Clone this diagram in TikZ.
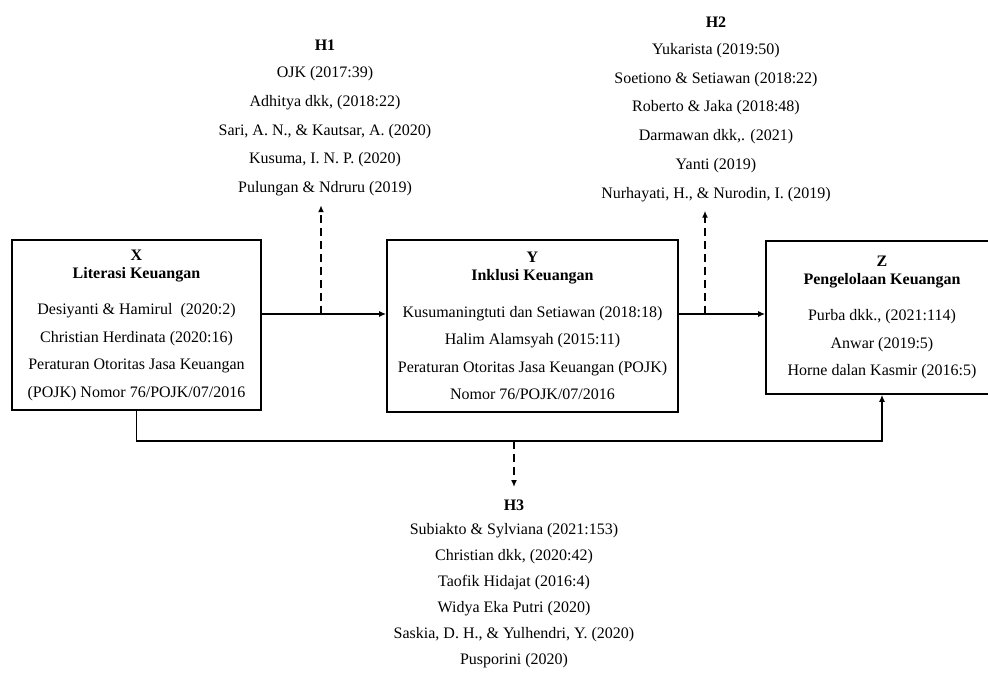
\documentclass[tikz,border=0pt]{standalone}
\usepackage{fontspec}
\setmainfont{Liberation Serif}
\usetikzlibrary{arrows.meta,positioning}
\tikzstyle{var} = [draw, line width=1.6pt, align=center, inner sep=0pt, font=\fontsize{16}{27.5}\selectfont]
\tikzstyle{refs} = [align=center, inner sep=0pt, anchor=north, font=\fontsize{16}{28.7}\selectfont]
\tikzstyle{link} = [line width=1.5pt, -{Latex[length=7pt,width=6pt]}]
\tikzstyle{hyp} = [link, dash pattern=on 8pt off 5pt]

\begin{document}
\begin{tikzpicture}[x=1pt, y=-1pt]
	\clip (0,0) rectangle (988,688);
	\node[var, minimum width=249pt, minimum height=170pt] (X) at (136.5,325) {\textbf{X}\\[-9.5pt]\textbf{Literasi Keuangan}\\[9pt]Desiyanti \& Hamirul\ \ (2020:2)\\Christian Herdinata (2020:16)\\Peraturan Otoritas Jasa Keuangan\\(POJK) Nomor 76/POJK/07/2016};
	\node[var, minimum width=291pt, minimum height=172pt] (Y) at (532.5,326) {\textbf{Y}\\[-9.5pt]\textbf{Inklusi Keuangan}\\[9pt]Kusumaningtuti dan Setiawan (2018:18)\\Halim Alamsyah (2015:11)\\Peraturan Otoritas Jasa Keuangan (POJK)\\Nomor 76/POJK/07/2016};
	\node[var, minimum width=232pt, minimum height=153pt] (Z) at (882,317.5) {\textbf{Z}\\[-9.5pt]\textbf{Pengelolaan Keuangan}\\[9pt]Purba dkk., (2021:114)\\Anwar (2019:5)\\Horne dalan Kasmir (2016:5)};

	\node[refs] (H1) at (325,40) {\textbf{H1}\\[-1.7pt]OJK (2017:39)\\Adhitya dkk, (2018:22)\\Sari, A. N., \& Kautsar, A. (2020)\\Kusuma, I. N. P. (2020)\\Pulungan \& Ndruru (2019)};
	\node[refs] (H2) at (716,16.7) {\textbf{H2}\\[-1.6pt]Yukarista (2019:50)\\Soetiono \& Setiawan (2018:22)\\Roberto \& Jaka (2018:48)\\Darmawan dkk,. (2021)\\Yanti (2019)\\Nurhayati, H., \& Nurodin, I. (2019)};
	\node[refs, font=\fontsize{16}{26}\selectfont] (H3) at (514,499.5) {\textbf{H3}\\[-2pt]Subiakto \& Sylviana (2021:153)\\Christian dkk, (2020:42)\\Taofik Hidajat (2016:4)\\Widya Eka Putri (2020)\\Saskia, D. H., \& Yulhendri, Y. (2020)\\Pusporini (2020)};

	\coordinate (row) at (0,314);
	\coordinate (base) at (0,441);
	\coordinate (j1) at (321,314);
	\coordinate (j2) at (705,314);
	\coordinate (j3) at (514,441);

	\draw[link] (X.east |- row) -- (Y.west |- row);
	\draw[link] (Y.east |- row) -- (Z.west |- row);
	\draw[link] (X.south) -- (X.south |- base) -| (Z.south);

	\draw[hyp, shorten >=9pt] (j1) -- (j1 |- H1.south);
	\draw[hyp, shorten >=9pt] (j2) -- (j2 |- H2.south);
	\draw[hyp, shorten >=12.5pt] (j3) -- (j3 |- H3.north);
\end{tikzpicture}
\end{document}
